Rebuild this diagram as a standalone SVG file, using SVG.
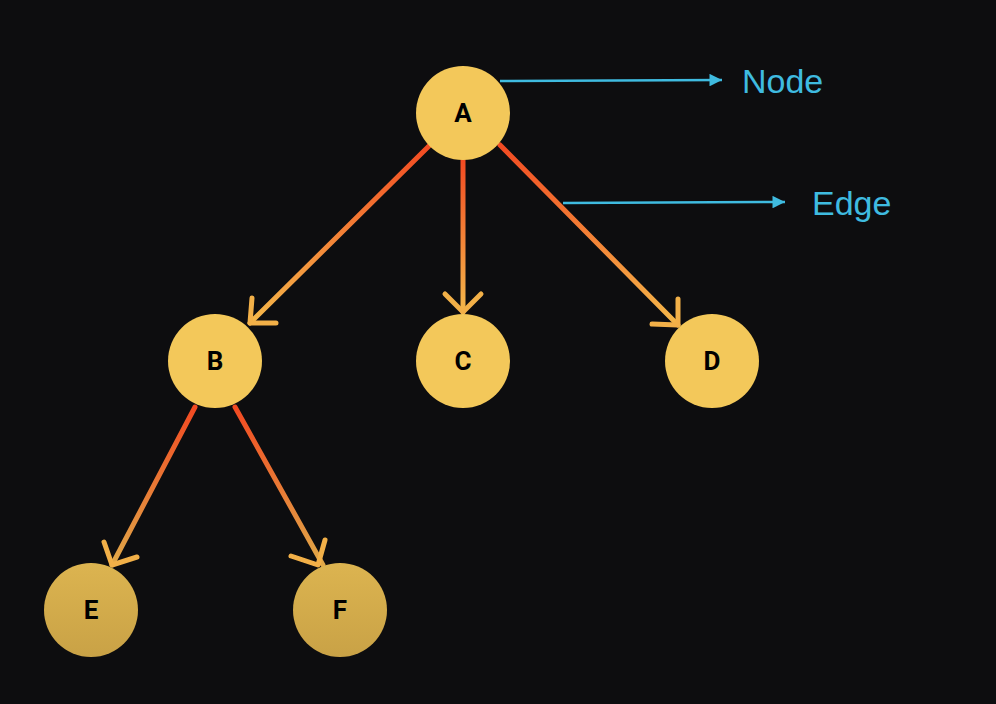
<svg xmlns="http://www.w3.org/2000/svg" width="996" height="704" viewBox="0 0 996 704">
<defs>
<style>
.n{fill:#f3c85a}
.n2{fill:url(#g2)}
.t{font-family:Roboto,"Liberation Sans",sans-serif;font-weight:bold;font-size:26px;fill:#000;text-anchor:middle}
.e{fill:none;stroke-width:5;stroke-linecap:round;stroke-linejoin:round}
.h{fill:none;stroke:#f2b048;stroke-width:5;stroke-linecap:round;stroke-linejoin:round}
.b{stroke:#3fbbe0;stroke-width:2.5;fill:none}
.l{font-family:"Liberation Sans",Arial,sans-serif;font-size:34px;fill:#3fbbe0}
</style>
<linearGradient id="g2" x1="0" y1="0" x2="0" y2="1"><stop offset="0" stop-color="#dcb450"/><stop offset="1" stop-color="#c9a246"/></linearGradient>
<linearGradient id="eAB" gradientUnits="userSpaceOnUse" x1="430" y1="145" x2="250" y2="323"><stop offset="0" stop-color="#f24a22"/><stop offset="1" stop-color="#f4b84a"/></linearGradient>
<linearGradient id="eAC" gradientUnits="userSpaceOnUse" x1="463" y1="160" x2="463" y2="312"><stop offset="0" stop-color="#f24a22"/><stop offset="1" stop-color="#f4b84a"/></linearGradient>
<linearGradient id="eAD" gradientUnits="userSpaceOnUse" x1="500" y1="145" x2="678" y2="325"><stop offset="0" stop-color="#f24a22"/><stop offset="1" stop-color="#f4b84a"/></linearGradient>
<linearGradient id="eBE" gradientUnits="userSpaceOnUse" x1="195" y1="407" x2="112" y2="565"><stop offset="0" stop-color="#f24a22"/><stop offset="1" stop-color="#e0a848"/></linearGradient>
<linearGradient id="eBF" gradientUnits="userSpaceOnUse" x1="235" y1="407" x2="323" y2="565"><stop offset="0" stop-color="#f24a22"/><stop offset="1" stop-color="#e0a848"/></linearGradient>
<marker id="tri" viewBox="0 0 10 10" refX="10" refY="5" markerWidth="6" markerHeight="5" markerUnits="strokeWidth" orient="auto"><path d="M0,0L10,5L0,10z" fill="#3fbbe0"/></marker>
</defs>
<rect width="996" height="704" fill="#0d0d0f"/>
<g id="connectors">
<line class="e" stroke="url(#eAB)" x1="430" y1="145" x2="250" y2="323"/>
<polyline class="h" points="252,298 250,323 276,323"/>
<line class="e" stroke="url(#eAC)" x1="463" y1="160" x2="463" y2="312"/>
<polyline class="h" points="445,294 463,312 481,294"/>
<line class="e" stroke="url(#eAD)" x1="500" y1="145" x2="678" y2="325"/>
<polyline class="h" points="678,299 678,325 652,324"/>
<line class="e" stroke="url(#eBE)" x1="195" y1="407" x2="112" y2="565"/>
<polyline class="h" points="104,542 112,565 137,557"/>
<line class="e" stroke="url(#eBF)" x1="235" y1="407" x2="323" y2="565"/>
<polyline class="h" points="291,556 318,565 325,540"/>
<line class="b" x1="500" y1="81" x2="722" y2="80" marker-end="url(#tri)"/>
<line class="b" x1="563" y1="203" x2="785" y2="202" marker-end="url(#tri)"/>
</g>
<g id="A"><circle class="n" cx="463" cy="113" r="47"/><text class="t" x="463" y="122">A</text></g>
<g id="B"><circle class="n" cx="215" cy="361" r="47"/><text class="t" x="215" y="370">B</text></g>
<g id="C"><circle class="n" cx="463" cy="361" r="47"/><text class="t" x="463" y="370">C</text></g>
<g id="D"><circle class="n" cx="712" cy="361" r="47"/><text class="t" x="712" y="370">D</text></g>
<g id="E"><circle class="n2" cx="91" cy="610" r="47"/><text class="t" x="91" y="619">E</text></g>
<g id="F"><circle class="n2" cx="340" cy="610" r="47"/><text class="t" x="340" y="619">F</text></g>
<g id="labels">
<text class="l" x="742" y="93">Node</text>
<text class="l" x="812" y="215">Edge</text>
</g>
</svg>
